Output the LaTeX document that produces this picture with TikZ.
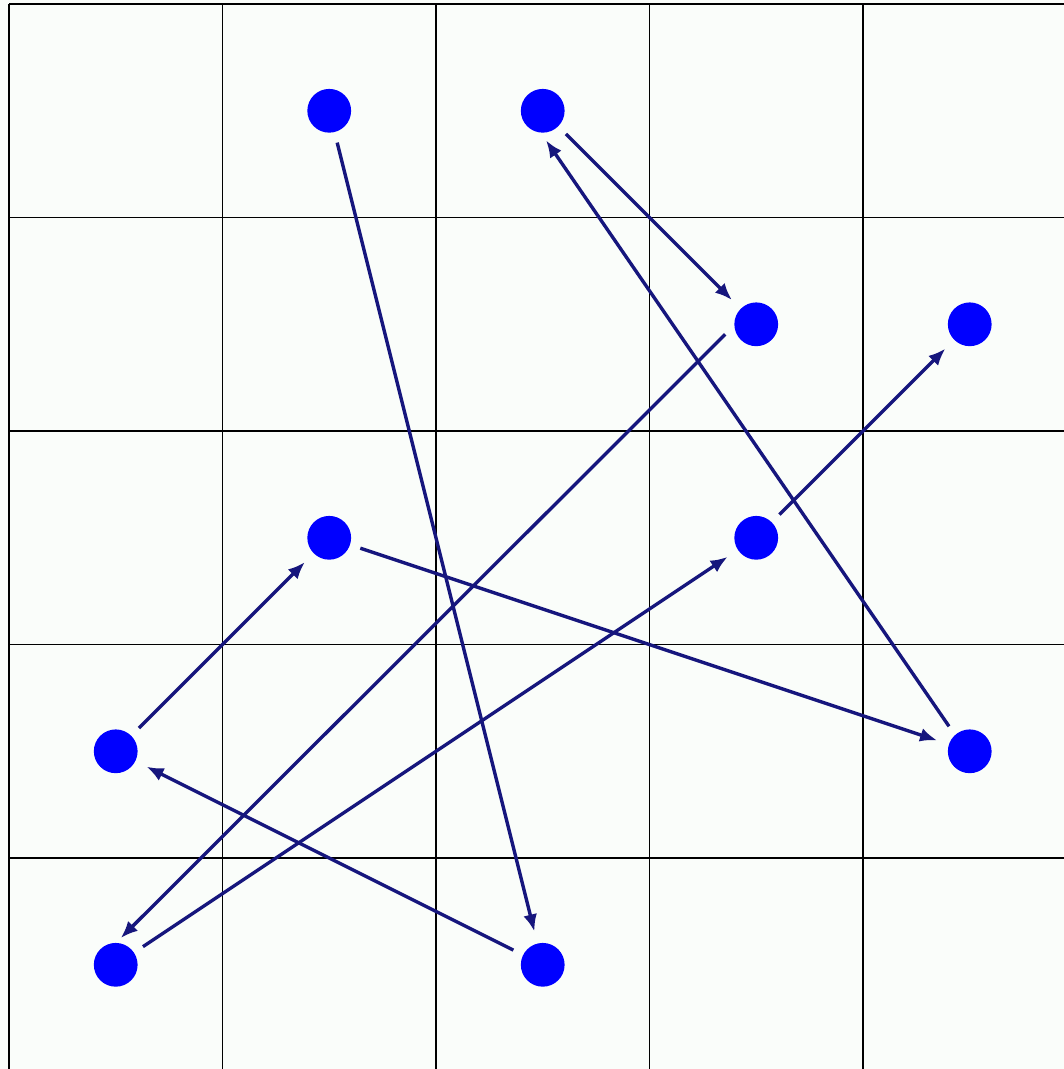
\documentclass[tikz,border=0pt]{standalone}
\usetikzlibrary{arrows.meta}
\definecolor{bgcol}{RGB}{250,253,250}
\definecolor{movecol}{RGB}{22,22,125}

\begin{document}
\begin{tikzpicture}[x=2cm,y=2cm,>={Latex[length=1.6mm,width=1.3mm]},
  dot/.style={circle,fill=blue,inner sep=0pt,minimum size=4.1mm},
  move/.style={->,line width=0.9pt,draw=movecol,shorten <=0.95mm,shorten >=1.1mm},
  moveoff/.style={move,shorten <=0pt,shorten >=0pt}]
  \fill[bgcol] (-0.042,0.012) rectangle (4.94,5.019);
  \useasboundingbox (-0.042,0.012) rectangle (4.94,5.019);
  % board
  \foreach \i in {0,...,5} {
    \draw[line width=0.35pt] (\i,0) -- (\i,5);
    \draw[line width=0.35pt] (0,\i) -- (5,\i);
  }
  % squares on the path, column/row from top left
  \foreach \n/\c/\r in {p1/1/0, p2/2/4, p3/0/3, p4/1/2, p5/4/3,
                        p6/2/0, p7/3/1, p8/0/4, p9/3/2, p10/4/1} {
    \node[dot] (\n) at (\c+0.5,4.5-\r) {};
  }
  % moves
  \foreach \a/\b in {p1/p2, p2/p3, p3/p4, p4/p5,
                     p6/p7, p8/p9, p9/p10} {
    \draw[move] (\a) -- (\b);
  }
  % these two sit a little off the centres
  \draw[moveoff] ([shift={(-0.194cm,0.234cm)}]p5.center) -- ([shift={(0.031cm,-0.277cm)}]p6.center);
  \draw[moveoff] ([shift={(-0.29cm,-0.094cm)}]p7.center) -- ([shift={(0.047cm,0.25cm)}]p8.center);
\end{tikzpicture}
\end{document}
